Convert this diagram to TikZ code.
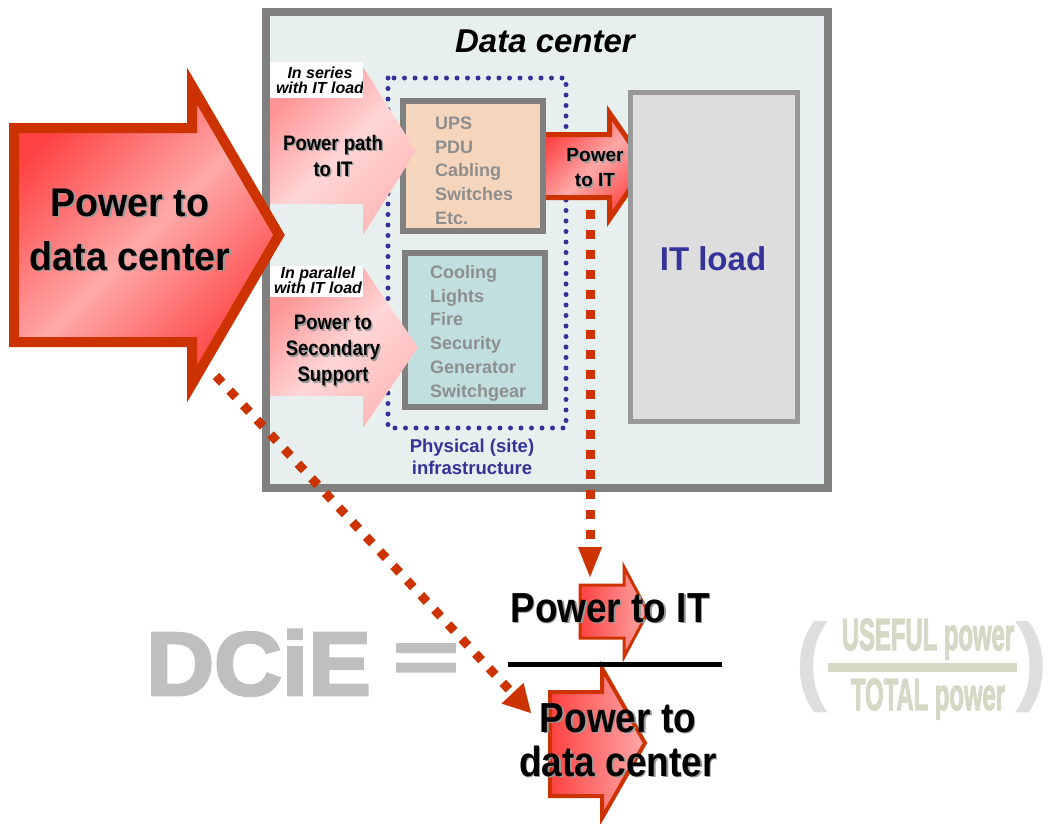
\documentclass[tikz,border=0pt]{standalone}
\usepackage{fontspec}
\setmainfont{Liberation Sans}
\newfontfamily\narrowfont[FakeStretch=0.88]{Liberation Sans}
\newfontfamily\heavyfont[FakeBold=3]{Liberation Sans Bold}
\usetikzlibrary{arrows.meta}

\definecolor{boxgray}{HTML}{808080}
\definecolor{dcfill}{HTML}{E8F0EF}
\definecolor{upsfill}{HTML}{F6D5BD}
\definecolor{coolfill}{HTML}{C2DFE0}
\definecolor{itfill}{HTML}{DDDDDD}
\definecolor{itborder}{HTML}{999999}
\definecolor{navy}{HTML}{333399}
\definecolor{listgray}{HTML}{8E8E8E}
\definecolor{arrowline}{HTML}{CC3300}
\definecolor{arrred}{HTML}{FF4242}
\definecolor{arrpink}{HTML}{FFA8A8}
\definecolor{pinkA}{HTML}{FF9494}
\definecolor{pinkB}{HTML}{FFD6D6}
\definecolor{pinkC}{HTML}{FFB8B8}
\definecolor{dciegray}{HTML}{BFBFBF}
\definecolor{khaki}{HTML}{D5D8C4}
\definecolor{pargray}{HTML}{DEDEDE}

% block arrow: (left:body top:body bottom)(head base:head top:head bottom)(tip x)
\def\blockarrow[#1](#2:#3:#4)(#5:#6:#7)(#8){\path[#1] (#2,#3) -- (#5,#3) -- (#5,#6) -- (#8,{(#6+#7)/2}) -- (#5,#7) -- (#5,#4) -- (#2,#4) -- cycle;}
% text with a grey drop shadow
\def\shadowed#1{\rlap{\kern1.5pt\raisebox{-1.5pt}{\color{black!40}#1}}#1}

\tikzset{
  redarrow/.style={draw=arrowline, line width=10, line join=miter, top color=arrred, bottom color=arrred, middle color=arrpink, shading angle=45},
  pinkarrow/.style={top color=pinkA, bottom color=pinkC, middle color=pinkB, shading angle=45},
  flatarrow/.style={draw=arrowline, line join=miter, left color=arrred, right color=arrpink},
  bluedots/.style={draw=navy, line width=5, line cap=round, dash pattern=on 0pt off 10.5pt},
  reddots/.style={draw=arrowline, line width=9, dash pattern=on 9pt off 11pt},
  listtext/.style={anchor=north west, align=left, text=listgray, font=\bfseries\fontsize{18}{23.75}\selectfont},
  tag/.style={align=center, anchor=north, font=\bfseries\itshape\fontsize{16}{15.5}\selectfont},
  pathtext/.style={align=center, anchor=north, font=\narrowfont\bfseries\fontsize{21}{26}\selectfont},
  bigtext/.style={align=center, anchor=north, font=\bfseries\fontsize{40}{54}\selectfont},
  formula/.style={align=center, font=\narrowfont\bfseries\fontsize{42}{44}\selectfont},
  ratiotext/.style={anchor=base, text=khaki, font=\heavyfont\fontsize{45}{45}\selectfont},
  paren/.style={anchor=base, text=pargray, font=\bfseries\fontsize{98}{98}\selectfont},
}

\begin{document}
\begin{tikzpicture}[x=1pt, y=-1pt, every node/.style={inner sep=0pt}]
			%%%%% START %%%%%
			\useasboundingbox (0,0) rectangle (1049,823);

			% data center housing
			\draw[line width=8, draw=boxgray, fill=dcfill] (266,12) rectangle (828,488);
			\node[anchor=base, font=\bfseries\itshape\fontsize{33}{33}\selectfont] (title) at (545,52) {Data center};

			% physical (site) infrastructure
			\draw[bluedots] (388,78) rectangle (566,428);
			\node[align=center, anchor=north, text=navy, font=\bfseries\fontsize{18.5}{22}\selectfont] (physical) at (472,438.5) {Physical (site)\\infrastructure};

			% power to IT, starts under the UPS box
			\blockarrow[redarrow, line width=5](543:134.5:197.5)(609.5:113:219)(646)
			\node[align=center, anchor=north, font=\bfseries\fontsize{19}{25}\selectfont] (ptit) at (595,148.5) {\shadowed{Power}\\\shadowed{to IT}};

			\draw[line width=6, draw=boxgray, fill=upsfill] (403,101) rectangle (543,231);
			\node[listtext] (upslist) at (435,116.5) {UPS\\PDU\\Cabling\\Switches\\Etc.};

			\draw[line width=6, draw=boxgray, fill=coolfill] (405,253) rectangle (545,407);
			\node[listtext] (coollist) at (430,265) {Cooling\\Lights\\Fire\\Security\\Generator\\Switchgear};

			\draw[line width=5, draw=itborder, fill=itfill] (630.5,92.5) rectangle (797.5,421.5);
			\node[anchor=base, text=navy, font=\bfseries\fontsize{33}{33}\selectfont] (itload) at (713,270) {IT load};

			% series / parallel feeds
			\fill[white] (270,62) rectangle (363,98);
			\fill[white] (270,266) rectangle (363,297);
			\node[tag] (series) at (320,66.5) {In series\\with IT load};
			\node[tag] (parallel) at (318,266.5) {In parallel\\with IT load};

			\blockarrow[pinkarrow](270:98:204)(363:67:235)(416)
			\blockarrow[pinkarrow](270:297:396)(363:267:428)(418)
			\node[pathtext] (pathit) at (333,135) {\shadowed{Power path}\\\shadowed{to IT}};
			\node[pathtext] (secondary) at (333,315) {\shadowed{Power to}\\\shadowed{Secondary}\\\shadowed{Support}};

			% dotted links down to the ratio
			\coordinate (itsrc) at (590,210);
			\coordinate (itdst) at (590,577);
			\coordinate (dcsrc) at (216,376);
			\coordinate (dcdst) at (531,713);
			\draw[reddots, -{Triangle[length=30pt, width=24pt, line width=0.1pt]}] (itsrc) -- (itdst);
			\draw[reddots, -{Triangle[length=27pt, width=30pt, line width=0.1pt]}] (dcsrc) -- (dcdst);

			% power to data center
			\blockarrow[redarrow](14:128:342)(192:86:384)(279)
			\node[bigtext] (pdc) at (130,188.5) {\shadowed{\scalebox{0.94}[1]{Power to}}\\\shadowed{\scalebox{0.94}[1]{data center}}};

			% DCiE ratio
			\node[anchor=base west, text=dciegray, font=\heavyfont\fontsize{90}{90}\selectfont] (dcie) at (146,695) {\scalebox{1.045}[1]{DCiE}};
			\node[text=dciegray, font=\heavyfont\fontsize{90}{90}\selectfont] (equals) at (426,663) {\scalebox{1.25}[0.8]{=}};

			\blockarrow[flatarrow, line width=3](580:585:638)(624:567:657)(648)
			\blockarrow[flatarrow, line width=4](550:692:796)(602:668:818)(645)
			\draw[line width=5] (508,664) -- (722,664);
			\node[formula, anchor=base] (num) at (610,622) {\shadowed{Power to IT}};
			\node[formula, anchor=north] (den) at (618,703) {\shadowed{Power to}\\\shadowed{data center}};

			% useful over total
			\node[paren] (lpar) at (812,692) {(};
			\node[paren] (rpar) at (1032,692) {)};
			\node[ratiotext] (useful) at (928,650) {\scalebox{0.53}[1]{USEFUL power}};
			\node[ratiotext] (total) at (928,710) {\scalebox{0.53}[1]{TOTAL power}};
			\draw[line width=9, draw=khaki] (828,667.5) -- (1017,667.5);

			%%%%% END %%%%%
\end{tikzpicture}
\end{document}
